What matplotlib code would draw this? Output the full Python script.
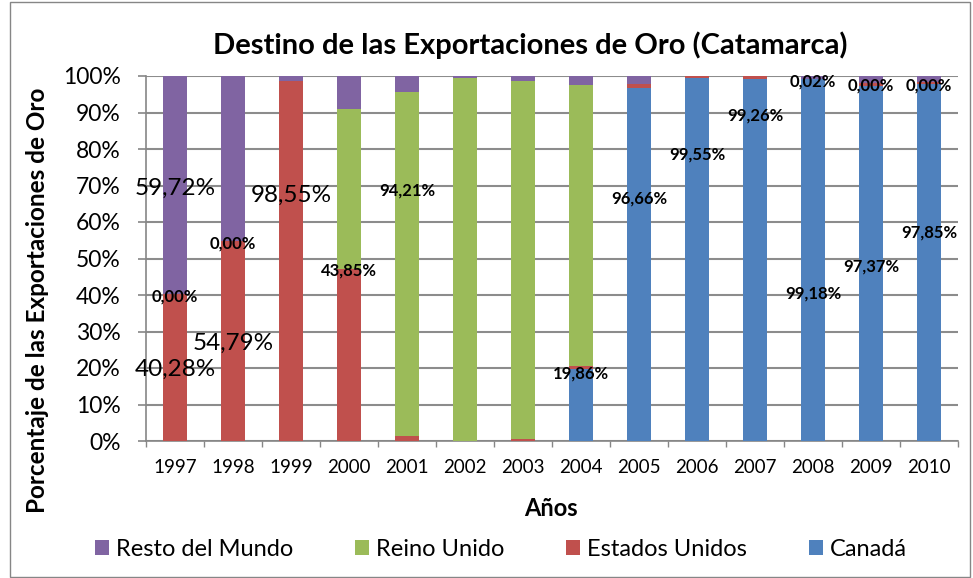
import numpy as np
import matplotlib.pyplot as plt
from matplotlib.patches import Rectangle

plt.rcParams['font.family'] = ['Lato', 'DejaVu Sans']

# ---------------------------------------------------------
# Data (percent of gold exports by destination)
# ---------------------------------------------------------
years = ['1997', '1998', '1999', '2000', '2001', '2002', '2003',
         '2004', '2005', '2006', '2007', '2008', '2009', '2010']

canada = [0, 0, 0, 0, 0, 0, 0, 19.86, 96.66, 99.55, 99.26, 99.18, 97.37, 97.85]
estados_unidos = [40.28, 54.79, 98.55, 47.20, 1.50, 0.10, 0.50, 0.80, 1.10, 0.45, 0.74, 0.02, 0.60, 0.50]
reino_unido = [0, 0, 0, 43.85, 94.21, 99.40, 98.10, 76.90, 0, 0, 0, 0, 0, 0]
resto_mundo = [59.72, 45.21, 1.45, 8.95, 4.29, 0.50, 1.40, 2.44, 2.24, 0.0, 0.0, 0.80, 2.03, 1.65]

# data labels as they appear in the original chart
label_year = [0, 0, 0, 1, 1, 2, 3, 4, 7, 8, 9, 10, 11, 11, 12, 12, 13, 13]
label_y = [69.3, 19.7, 39.7, 54.2, 26.8, 67.4, 46.6, 68.5, 18.4, 66.3,
           78.4, 89.3, 98.6, 40.3, 97.5, 47.9, 97.5, 57.0]
label_text = ['59,72%', '40,28%', '0,00%', '0,00%', '54,79%', '98,55%', '43,85%',
              '94,21%', '19,86%', '96,66%', '99,55%', '99,26%', '0,02%', '99,18%',
              '0,00%', '97,37%', '0,00%', '97,85%']
label_big = [True, True, False, False, True, True, False, False, False, False,
             False, False, False, False, False, False, False, False]

col_canada = '#4F81BD'
col_eeuu = '#C0504D'
col_ru = '#9BBB59'
col_resto = '#8064A2'

# ---------------------------------------------------------
# Figure
# ---------------------------------------------------------
fig = plt.figure(figsize=(9.73, 5.78), dpi=100)
ax_left, ax_right, ax_top, ax_bottom = 146, 958, 76, 441
ax = fig.add_axes([ax_left / 973, 1 - ax_bottom / 578,
                   (ax_right - ax_left) / 973, (ax_bottom - ax_top) / 578])

x = np.arange(len(years))
w = 0.4
canada = np.array(canada)
estados_unidos = np.array(estados_unidos)
reino_unido = np.array(reino_unido)
resto_mundo = np.array(resto_mundo)

ax.bar(x, canada, w, color=col_canada, label='Canadá', zorder=3)
ax.bar(x, estados_unidos, w, bottom=canada, color=col_eeuu,
       label='Estados Unidos', zorder=3)
ax.bar(x, reino_unido, w, bottom=canada + estados_unidos, color=col_ru,
       label='Reino Unido', zorder=3)
ax.bar(x, resto_mundo, w, bottom=canada + estados_unidos + reino_unido,
       color=col_resto, label='Resto del Mundo', zorder=3)

for i, yv, txt, big in zip(label_year, label_y, label_text, label_big):
    if big:
        ax.text(i, yv, txt, ha='center', va='center', fontsize=17.5,
                color='black', zorder=5)
    else:
        ax.text(i, yv, txt, ha='center', va='center', fontsize=12,
                fontweight='bold', color='black', zorder=5)

ax.set_xlim(-0.5, len(years) - 0.5)
ax.set_ylim(0, 100)
ax.set_yticks(np.arange(0, 101, 10))
ax.set_yticklabels([f'{v}%' for v in range(0, 101, 10)], fontsize=16.5)
ax.set_xticks(x)
ax.set_xticklabels(years, fontsize=13.5)
ax.tick_params(axis='x', length=0, pad=13)
ax.set_xticks(np.arange(-0.5, len(years), 1), minor=True)
ax.tick_params(axis='x', which='minor', length=4.5, color='#868686', width=1)
ax.tick_params(axis='y', length=5.8, color='#868686', width=1.2, pad=12.5)

ax.grid(axis='y', color='#8C8C8C', linewidth=1.5, zorder=0)
for side in ['top', 'right']:
    ax.spines[side].set_visible(False)
for side in ['left', 'bottom']:
    ax.spines[side].set_color('#868686')
    ax.spines[side].set_linewidth(1.2)

ax.set_xlabel('Años', fontsize=17, fontweight='bold')
ax.xaxis.set_label_coords((551 - ax_left) / (ax_right - ax_left),
                          -(508 - ax_bottom) / (ax_bottom - ax_top))
ax.set_ylabel('Porcentaje de las Exportaciones de Oro', fontsize=17.5,
              fontweight='bold')
ax.yaxis.set_label_coords((38 - ax_left) / (ax_right - ax_left),
                          (ax_bottom - 300) / (ax_bottom - ax_top))
ax.xaxis.label.set_verticalalignment('center')
ax.yaxis.label.set_verticalalignment('center')

fig.text(530 / 973, 1 - 45 / 578, 'Destino de las Exportaciones de Oro (Catamarca)',
         ha='center', va='center', fontsize=21, fontweight='bold')

handles, labels = ax.get_legend_handles_labels()
fig.legend(handles[::-1], labels[::-1], loc='center', ncol=4,
           bbox_to_anchor=(501 / 973, 1 - 549 / 578), frameon=False,
           fontsize=17, handlelength=0.6, handleheight=0.6,
           columnspacing=2.6, handletextpad=0.3)

fig.patches.append(Rectangle((10 / 973, 0.002), 960 / 973, 0.995,
                             transform=fig.transFigure, fill=False,
                             edgecolor='#868686', linewidth=1))

fig.savefig('out.png', dpi=100)
